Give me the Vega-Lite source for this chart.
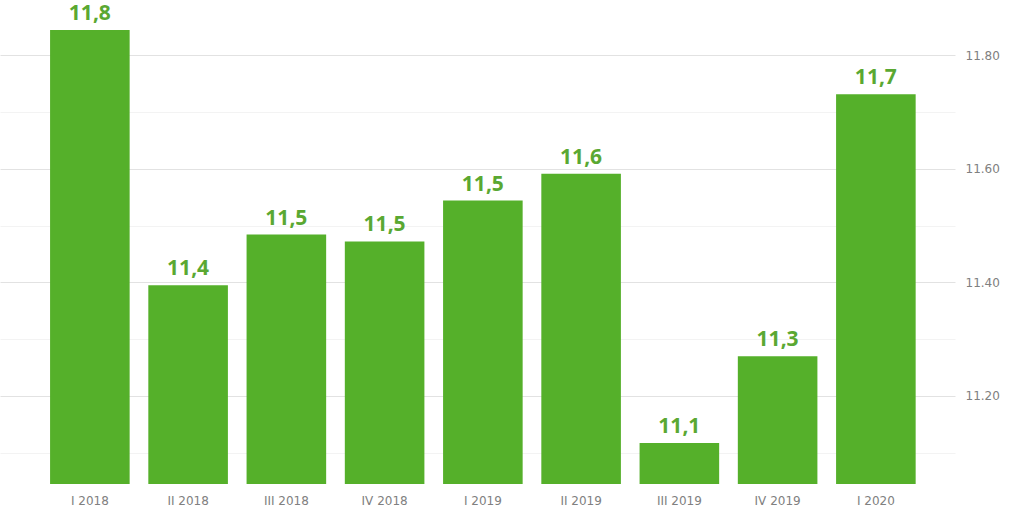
{
  "$schema": "https://vega.github.io/schema/vega-lite/v6.json",
  "width": 955,
  "height": 484,
  "autosize": "none",
  "padding": {"left": 0, "top": 0, "right": 60, "bottom": 28},
  "background": "white",
  "data": {"values": [
    {"q": "I 2018", "v": 11.844, "label": "11,8"},
    {"q": "II 2018", "v": 11.395, "label": "11,4"},
    {"q": "III 2018", "v": 11.484, "label": "11,5"},
    {"q": "IV 2018", "v": 11.472, "label": "11,5"},
    {"q": "I 2019", "v": 11.544, "label": "11,5"},
    {"q": "II 2019", "v": 11.591, "label": "11,6"},
    {"q": "III 2019", "v": 11.117, "label": "11,1"},
    {"q": "IV 2019", "v": 11.27, "label": "11,3"},
    {"q": "I 2020", "v": 11.731, "label": "11,7"}
  ]},
  "encoding": {
    "x": {"field": "q", "type": "nominal", "sort": null,
      "scale": {"paddingInner": 0.19, "paddingOuter": 0.455, "align": 0.56},
      "axis": {"title": null, "labelAngle": 0, "domain": false, "ticks": false, "labelColor": "#808080", "labelFont": "DejaVu Sans", "labelFontSize": 12, "labelPadding": 11}},
    "y": {"field": "v", "type": "quantitative",
      "scale": {"domain": [11.045, 11.897], "zero": false, "nice": false},
      "axis": {"title": null, "orient": "right", "values": [11.1, 11.2, 11.3, 11.4, 11.5, 11.6, 11.7, 11.8],
        "labelExpr": "round(datum.value*10)%2==0 ? format(datum.value,'.2f') : ''",
        "domain": false, "ticks": false, "labelPadding": 10, "labelColor": "#808080", "labelFont": "DejaVu Sans", "labelFontSize": 12,
        "gridColor": {"condition": {"test": "round(datum.value*10)%2==0", "value": "#e2e2e2"}, "value": "#f3f3f3"}}}
  },
  "layer": [
    {"mark": {"type": "bar", "color": "#55b02a", "clip": true}},
    {"mark": {"type": "text", "baseline": "bottom", "dy": -6, "color": "#5aa832", "font": "Open Sans", "fontSize": 21, "fontWeight": "bold"},
      "encoding": {"text": {"field": "label"}}}
  ],
  "config": {"view": {"stroke": null}}
}
